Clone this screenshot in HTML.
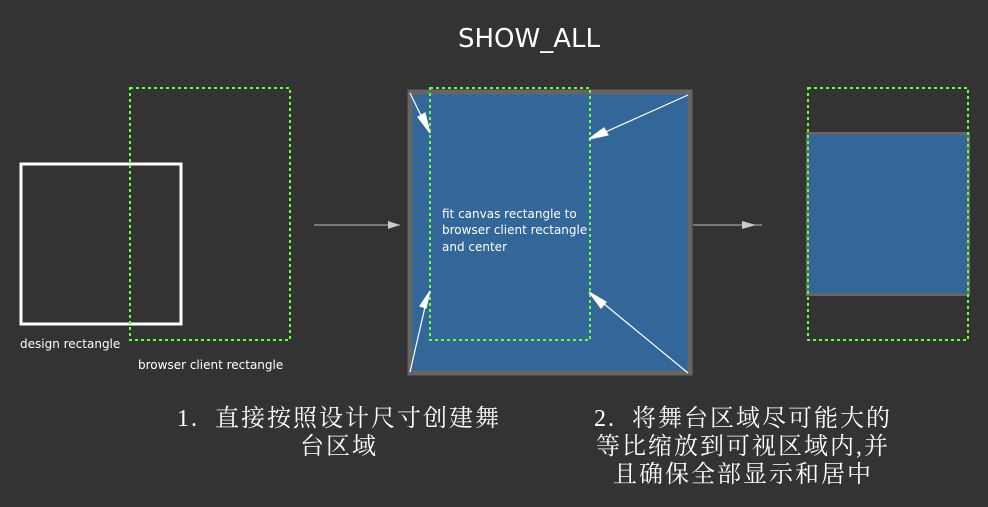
<!DOCTYPE html>
<html><head><meta charset="utf-8"><style>
html,body{margin:0;padding:0;background:#333;}
svg{display:block}
.cn{font-family:"Liberation Serif","Noto Serif CJK SC",serif;font-size:24px;fill:#fff;letter-spacing:2px}
.s{font-family:"DejaVu Sans","Liberation Sans",sans-serif;font-size:12px;fill:#fff}
</style></head><body>
<svg width="988" height="507" viewBox="0 0 988 507" xmlns="http://www.w3.org/2000/svg">
<rect width="988" height="507" fill="#333"/>
<text x="529" y="47" text-anchor="middle" font-family="DejaVu Sans, Liberation Sans, sans-serif" font-size="26" fill="#fff">SHOW_ALL</text>
<!-- left -->
<rect x="21" y="164" width="160" height="160" fill="none" stroke="#fff" stroke-width="3"/>
<rect x="130" y="88" width="160" height="252" fill="none" stroke="#66ff33" stroke-width="2" stroke-dasharray="3,3"/>
<text x="20" y="348" class="s">design rectangle</text>
<text x="138" y="369" class="s">browser client rectangle</text>
<!-- arrow 1 -->
<line x1="314" y1="225" x2="400" y2="225" stroke="#bbb" stroke-width="1"/>
<polygon points="388,221 400,225 388,229" fill="#ccc"/>
<!-- middle -->
<rect x="410" y="92" width="280" height="281" fill="#336699" stroke="#666" stroke-width="5"/>
<rect x="430" y="88" width="160" height="252" fill="none" stroke="#66ff33" stroke-width="2" stroke-dasharray="3,3"/>
<g stroke="#fff" stroke-width="1.2" fill="#fff">
<line x1="410" y1="93" x2="428" y2="130"/><polygon points="430,133 418,117 425,113"/>
<line x1="688" y1="95" x2="592" y2="138"/><polygon points="589,139 604,128 608,135"/>
<line x1="410" y1="372" x2="428" y2="294"/><polygon points="430,291 426,308 420,306"/>
<line x1="688" y1="373" x2="592" y2="294"/><polygon points="589,292 606,302 601,308"/>
</g>
<text x="442" y="218" class="s">fit canvas rectangle to</text>
<text x="442" y="234" class="s">browser client rectangle</text>
<text x="442" y="251" class="s">and center</text>
<!-- arrow 2 -->
<line x1="693" y1="225" x2="762" y2="225" stroke="#bbb" stroke-width="1"/>
<polygon points="742,221 756,225 742,229" fill="#ccc"/>
<!-- right -->
<rect x="807.5" y="133.5" width="161" height="161" fill="#336699" stroke="#666" stroke-width="3"/>
<rect x="808" y="88" width="160" height="252" fill="none" stroke="#66ff33" stroke-width="2" stroke-dasharray="3,3"/>
<!-- captions -->
<text x="339" y="426" text-anchor="middle" class="cn">1.&#160; 直接按照设计尺寸创建舞</text>
<text x="339" y="454" text-anchor="middle" class="cn">台区域</text>
<text x="743" y="426" text-anchor="middle" class="cn">2.&#160; 将舞台区域尽可能大的</text>
<text x="743" y="454" text-anchor="middle" class="cn">等比缩放到可视区域内,并</text>
<text x="743" y="482" text-anchor="middle" class="cn">且确保全部显示和居中</text>
</svg>
</body></html>
